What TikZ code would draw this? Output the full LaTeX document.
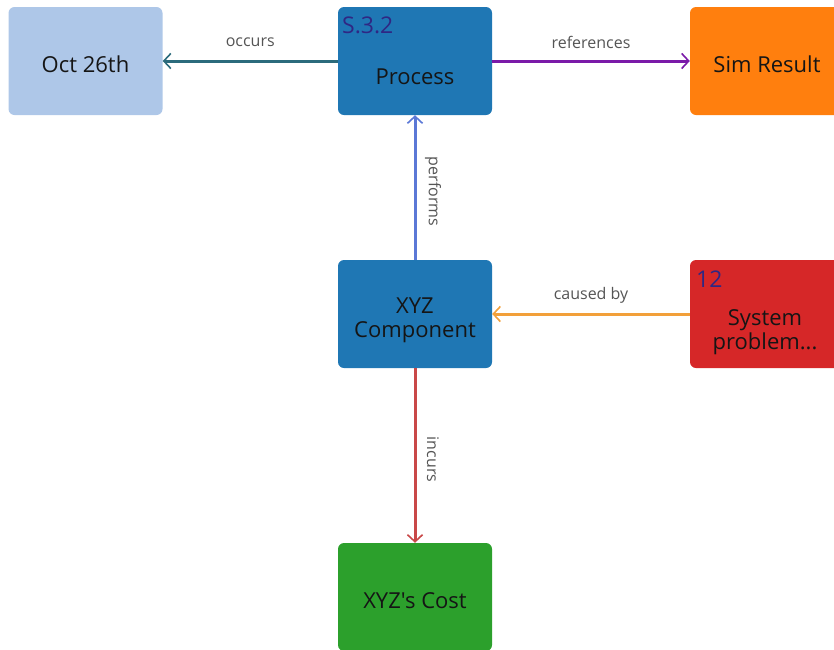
\documentclass[tikz,border=0pt]{standalone}
\usepackage{fontspec}
\newfontfamily\basefont{Open Sans}
\usetikzlibrary{arrows.meta}

\definecolor{cLightBlue}{HTML}{AEC7E8}
\definecolor{cBlue}{HTML}{1F77B4}
\definecolor{cOrange}{HTML}{FF7F0E}
\definecolor{cRed}{HTML}{D62728}
\definecolor{cGreen}{HTML}{2CA02C}
\definecolor{cTag}{HTML}{2F2784}
\definecolor{cLabel}{HTML}{555555}
\definecolor{cText}{HTML}{151515}
\definecolor{eTeal}{HTML}{2B6B7C}
\definecolor{ePurple}{HTML}{7A1AA8}
\definecolor{eBlue}{HTML}{5B78D6}
\definecolor{eOrange}{HTML}{F2A03A}
\definecolor{eRed}{HTML}{C94848}

\tikzset{
  card/.style={rounded corners=6pt, minimum width=154pt, minimum height=108pt,
    inner sep=0pt},
  cardtext/.style={text=cText, align=center, inner sep=0pt,
    font=\basefont\fontsize{22}{24}\selectfont},
  tag/.style={anchor=base west, inner sep=0pt, text=cTag,
    font=\basefont\fontsize{23}{24}\selectfont},
  link/.style={line width=3pt, -{Straight Barb[length=7pt,width=15pt,line width=1.6pt]}},
  elabel/.style={text=cLabel, font=\basefont\fontsize{16}{18}\selectfont, inner sep=0pt},
}

\begin{document}
\begin{tikzpicture}[x=1pt, y=-1pt]
  \useasboundingbox (0,0) rectangle (834,649);
  \clip (0,0) rectangle (834,649);

  % boxes
  \node[card, fill=cLightBlue] (oct) at (85.5,61) {};
  \node[cardtext] (octT) at (85.5,64) {Oct 26th};

  \node[card, fill=cBlue] (proc) at (415,61) {};
  \node[cardtext] (procT) at (415,77) {Process};
  \node[tag] (procTag) at (342,33) {S.3.2};

  \node[card, fill=cOrange] (sim) at (767,61) {};
  \node[cardtext] (simT) at (767,64) {Sim Result};

  \node[card, fill=cBlue] (comp) at (415,314) {};
  \node[cardtext] (compT) at (415,320) {XYZ\\Component};

  \node[card, fill=cRed] (sys) at (767,314) {};
  \node[cardtext] (sysT) at (765,332) {System\\problem...};
  \node[tag] (sysTag) at (696,287) {12};

  \node[card, fill=cGreen] (cost) at (415,597) {};
  \node[cardtext] (costT) at (415,601) {XYZ's Cost};

  % connectors
  \draw[link, draw=eTeal] (proc.west) -- (oct.east)
    node[elabel, midway, yshift=19pt] (lOcc) {occurs};
  \draw[link, draw=ePurple] (proc.east) -- (sim.west)
    node[elabel, midway, yshift=19pt] (lRef) {references};
  \draw[link, draw=eBlue] (comp.north) -- (proc.south)
    node[elabel, midway, xshift=18pt, yshift=-4pt, rotate=-90] (lPerf) {performs};
  \draw[link, draw=eOrange] (sys.west) -- (comp.east)
    node[elabel, midway, yshift=19pt] (lCaus) {caused by};
  \draw[link, draw=eRed] (comp.south) -- (cost.north)
    node[elabel, midway, xshift=18pt, yshift=-4pt, rotate=-90] (lInc) {incurs};
\end{tikzpicture}
\end{document}
